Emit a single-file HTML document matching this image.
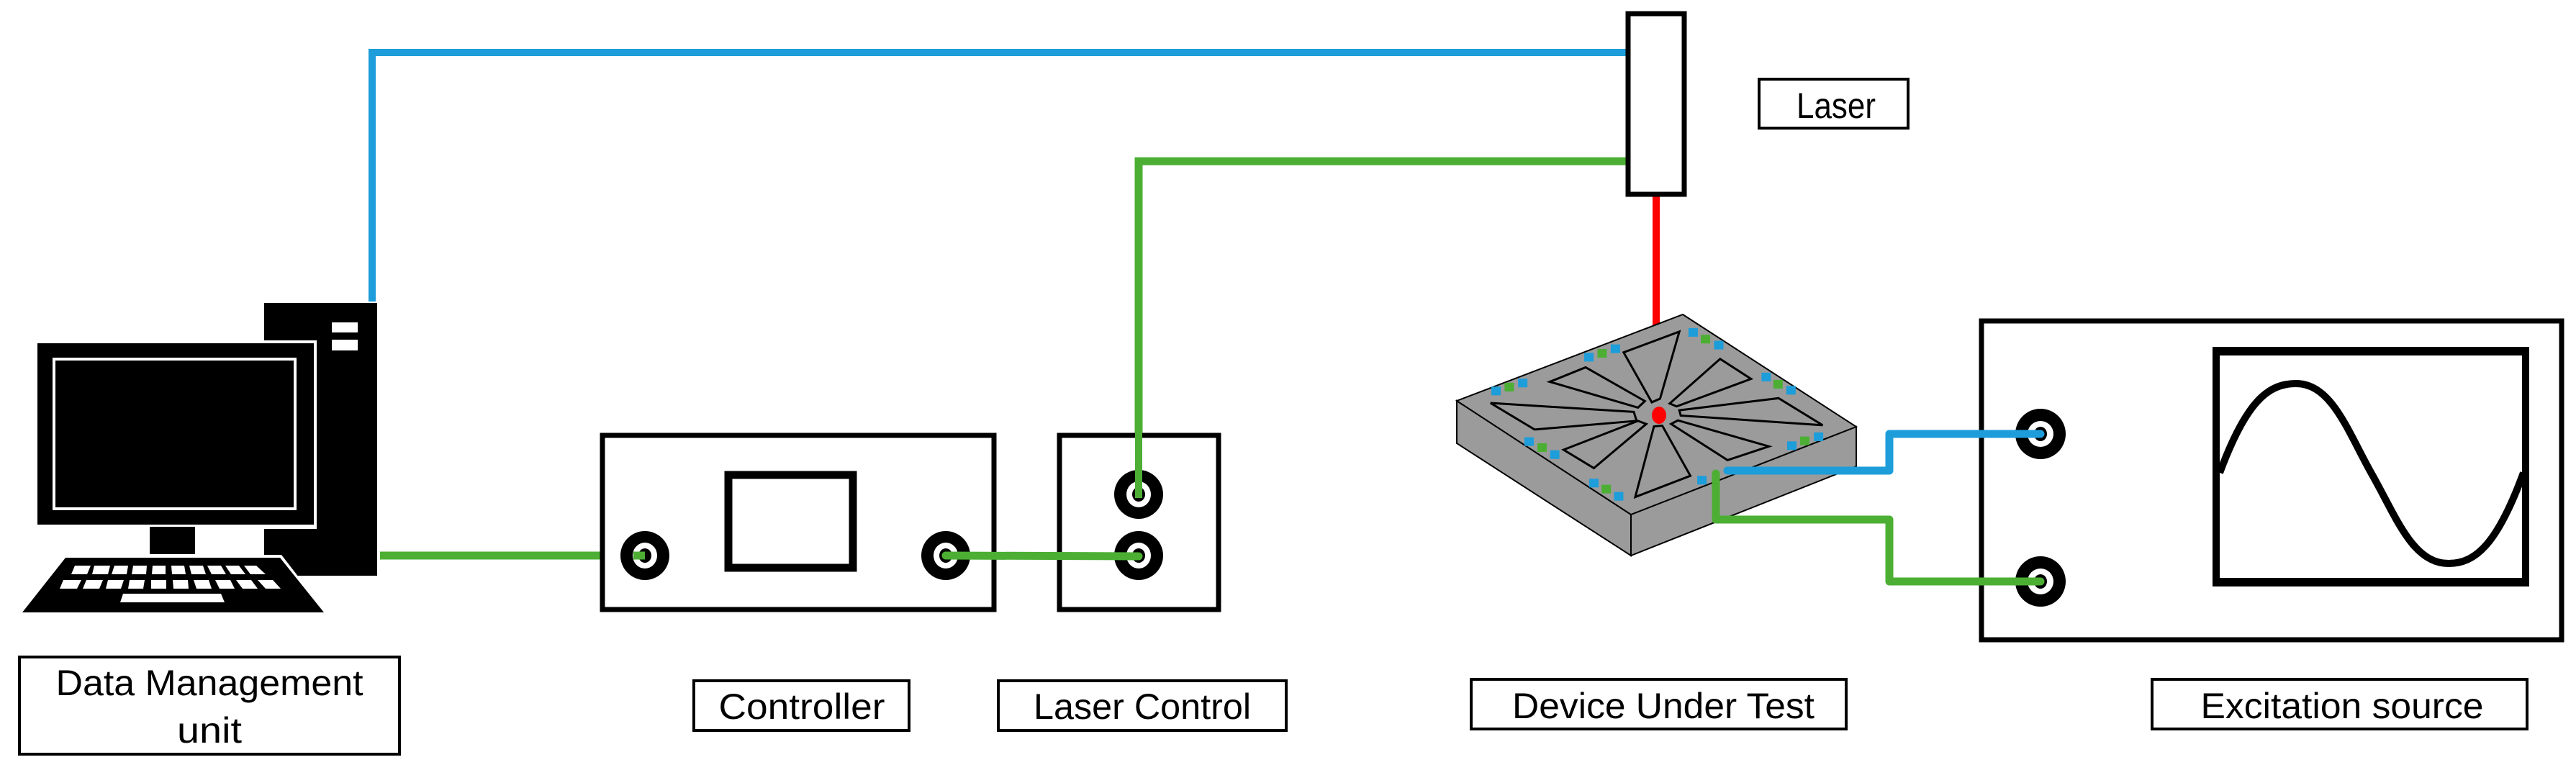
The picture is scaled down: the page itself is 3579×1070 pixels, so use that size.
<!DOCTYPE html>
<html><head><meta charset="utf-8"><style>html,body{margin:0;padding:0;background:#fff}svg{display:block}text{font-family:"Liberation Sans",sans-serif;font-size:50px;fill:#000}</style></head>
<body>
<svg width="3579" height="1070" viewBox="0 0 3579 1070" xmlns="http://www.w3.org/2000/svg">
<rect width="3579" height="1070" fill="#fff"/>

<!-- connector lines top -->
<polyline points="517,419 517,73 2262,73" fill="none" stroke="#1d9dd9" stroke-width="10"/>
<polyline points="1582,687 1582,224 2262,224" fill="none" stroke="#4caf34" stroke-width="11"/>
<line x1="2301" y1="273" x2="2301" y2="578" stroke="#ff0000" stroke-width="10"/>

<!-- Laser box -->
<rect x="2262" y="19" width="78" height="251" fill="#fff" stroke="#000" stroke-width="7"/>
<rect x="2444" y="110" width="207" height="68" fill="#fff" stroke="#000" stroke-width="4"/>
<text x="2551" y="164" text-anchor="middle" textLength="110" lengthAdjust="spacingAndGlyphs">Laser</text>

<!-- Computer -->
<rect x="367" y="421" width="157" height="379" fill="#000"/>
<rect x="461" y="448" width="36" height="14" fill="#fff"/>
<rect x="461" y="472" width="36" height="15" fill="#fff"/>
<rect x="48" y="473" width="392" height="262" fill="#fff"/>
<rect x="52" y="477" width="384" height="252" fill="#000"/>
<rect x="75" y="499" width="335" height="208" fill="none" stroke="#fff" stroke-width="4"/>
<rect x="208" y="732" width="63" height="38" fill="#000"/>
<polygon points="89,771 391,771 456,855 25,855" fill="#fff"/>
<polygon points="91,775 389,775 450,851 31,851" fill="#000"/>
<g fill="#fff">
<polygon points="104,786 126,786 121,798 99,798"/>
<polygon points="131,786 153,786 150,798 128,798"/>
<polygon points="159,786 178,786 176,798 155,798"/>
<polygon points="185,786 204,786 203,798 183,798"/>
<polygon points="212,786 230,786 230,798 211,798"/>
<polygon points="238,786 256,786 258,798 239,798"/>
<polygon points="263,786 282,786 286,798 266,798"/>
<polygon points="288,786 307,786 314,798 294,798"/>
<polygon points="313,786 332,786 341,798 321,798"/>
<polygon points="339,786 356,786 369,798 348,798"/>
<polygon points="88,806 113,806 107,818 83,818"/>
<polygon points="120,806 143,806 138,818 115,818"/>
<polygon points="150,806 172,806 168,818 147,818"/>
<polygon points="180,806 201,806 199,818 178,818"/>
<polygon points="210,806 231,806 231,818 210,818"/>
<polygon points="240,806 261,806 262,818 241,818"/>
<polygon points="269,806 290,806 294,818 273,818"/>
<polygon points="299,806 320,806 326,818 305,818"/>
<polygon points="328,806 349,806 358,818 337,818"/>
<polygon points="358,806 379,806 390,818 369,818"/>
<polygon points="171,825 307,825 312,837 167,837"/>
</g>

<!-- green from computer to controller -->
<line x1="528" y1="772" x2="896" y2="772" stroke="#4caf34" stroke-width="11"/>

<!-- Controller -->
<rect x="837" y="605" width="544" height="242" fill="#fff" stroke="#000" stroke-width="7"/>
<rect x="1012" y="660" width="173" height="129" fill="#fff" stroke="#000" stroke-width="11"/>
<!-- Laser control -->
<rect x="1472" y="605" width="221" height="242" fill="#fff" stroke="#000" stroke-width="7"/>

<g id="conn">
</g>
<!-- connectors -->
<g>
<ellipse cx="896" cy="772" rx="34" ry="34" fill="#000"/><ellipse cx="896" cy="772" rx="17" ry="18" fill="#fff"/><ellipse cx="896" cy="772" rx="9" ry="10" fill="#000"/>
<ellipse cx="1314" cy="772" rx="34" ry="34" fill="#000"/><ellipse cx="1314" cy="772" rx="17" ry="18" fill="#fff"/><ellipse cx="1314" cy="772" rx="9" ry="10" fill="#000"/>
<ellipse cx="1582" cy="687" rx="34" ry="34" fill="#000"/><ellipse cx="1582" cy="687" rx="17" ry="18" fill="#fff"/><ellipse cx="1582" cy="687" rx="9" ry="10" fill="#000"/>
<ellipse cx="1582" cy="772" rx="34" ry="34" fill="#000"/><ellipse cx="1582" cy="772" rx="17" ry="18" fill="#fff"/><ellipse cx="1582" cy="772" rx="9" ry="10" fill="#000"/>
</g>
<line x1="896" y1="772" x2="880" y2="772" stroke="#4caf34" stroke-width="11"/>
<line x1="1582" y1="600" x2="1582" y2="692" stroke="#4caf34" stroke-width="10"/>
<line x1="1314" y1="772" x2="1582" y2="773" stroke="#4caf34" stroke-width="11" stroke-linecap="round"/>

<!-- DUT -->
<polygon points="2024,557 2266,715 2266,772 2024,616" fill="#9b9b9b" stroke="#000" stroke-width="2"/>
<polygon points="2266,715 2579,593 2579,648 2266,772" fill="#9b9b9b" stroke="#000" stroke-width="2"/>
<polygon points="2338,437 2579,593 2266,715 2024,557" fill="#9b9b9b" stroke="#000" stroke-width="2"/>
<g transform="translate(2000,420) scale(0.383,0.335)" fill="none" stroke="#000" stroke-width="3">
<g vector-effect="non-scaling-stroke">
<polygon vector-effect="non-scaling-stroke" points="705,455 185,418 345,528 715,492"/>
<polygon vector-effect="non-scaling-stroke" points="720,437 400,330 530,270 745,410"/>
<polygon vector-effect="non-scaling-stroke" points="770,415 668,208 870,122 800,400"/>
<polygon vector-effect="non-scaling-stroke" points="835,420 1018,235 1130,318 860,432"/>
<polygon vector-effect="non-scaling-stroke" points="870,448 1230,398 1390,510 875,470"/>
<polygon vector-effect="non-scaling-stroke" points="865,490 1195,598 1045,655 840,505"/>
<polygon vector-effect="non-scaling-stroke" points="808,512 910,720 710,808 778,515"/>
<polygon vector-effect="non-scaling-stroke" points="750,505 560,688 450,612 720,492"/>
</g>
<g stroke="none">
<g fill="#1d9dd9">
<rect x="188" y="350" width="34" height="36"/><rect x="285" y="317" width="34" height="36"/>
<rect x="525" y="210" width="34" height="36"/><rect x="621" y="175" width="34" height="36"/>
<rect x="903" y="107" width="34" height="36"/><rect x="996" y="160" width="34" height="36"/>
<rect x="1168" y="292" width="34" height="36"/><rect x="1258" y="347" width="34" height="36"/>
<rect x="1261" y="577" width="34" height="36"/><rect x="1358" y="540" width="34" height="36"/>
<rect x="308" y="560" width="34" height="36"/><rect x="401" y="614" width="34" height="36"/>
<rect x="543" y="732" width="34" height="36"/><rect x="633" y="787" width="34" height="36"/>
<rect x="935" y="720" width="34" height="36"/>
</g>
<g fill="#4caf34">
<rect x="236" y="334" width="34" height="36"/><rect x="573" y="194" width="34" height="36"/>
<rect x="948" y="135" width="34" height="36"/><rect x="1211" y="322" width="34" height="36"/>
<rect x="1308" y="557" width="34" height="36"/><rect x="355" y="585" width="34" height="36"/>
<rect x="588" y="757" width="34" height="36"/>
</g>
</g>
</g>
<ellipse cx="2305" cy="577" rx="10" ry="12" fill="#ff0000"/>
<polyline points="2400,654 2625,654 2625,603 2835,603" fill="none" stroke="#1d9dd9" stroke-width="11" stroke-linejoin="round" stroke-linecap="round"/>
<polyline points="2384,658 2384,722 2625,722 2625,808 2835,808" fill="none" stroke="#4caf34" stroke-width="11" stroke-linejoin="round" stroke-linecap="round"/>

<!-- Excitation source -->
<rect x="2753" y="446" width="806" height="443" fill="none" stroke="#000" stroke-width="7"/>
<ellipse cx="2835" cy="603" rx="35" ry="35" fill="#000"/><ellipse cx="2835" cy="603" rx="18" ry="18" fill="#fff"/><ellipse cx="2835" cy="603" rx="9" ry="10" fill="#000"/>
<ellipse cx="2835" cy="808" rx="35" ry="35" fill="#000"/><ellipse cx="2835" cy="808" rx="18" ry="18" fill="#fff"/><ellipse cx="2835" cy="808" rx="9" ry="10" fill="#000"/>
<line x1="2750" y1="603" x2="2835" y2="603" stroke="#1d9dd9" stroke-width="11" stroke-linecap="round"/>
<line x1="2750" y1="808" x2="2835" y2="808" stroke="#4caf34" stroke-width="11" stroke-linecap="round"/>
<rect x="3079" y="488" width="430" height="322" fill="none" stroke="#000" stroke-width="10"/>
<rect x="3074" y="482" width="440" height="12" fill="#000"/>
<rect x="3074" y="803" width="440" height="12" fill="#000"/>
<path d="M3084,657 C3120,560 3150,533 3190,533 C3240,533 3262,600 3296,660 C3330,720 3352,783 3402,783 C3440,783 3470,755 3506,657" fill="none" stroke="#000" stroke-width="10"/>

<!-- Labels -->
<rect x="27" y="913" width="528" height="135" fill="none" stroke="#000" stroke-width="4"/>
<text x="291" y="966" text-anchor="middle" textLength="427" lengthAdjust="spacingAndGlyphs">Data Management</text>
<text x="291" y="1032" text-anchor="middle" textLength="90" lengthAdjust="spacingAndGlyphs">unit</text>
<rect x="964" y="946" width="299" height="69" fill="none" stroke="#000" stroke-width="4"/>
<text x="1114" y="999" text-anchor="middle" textLength="231" lengthAdjust="spacingAndGlyphs">Controller</text>
<rect x="1387" y="946" width="400" height="69" fill="none" stroke="#000" stroke-width="4"/>
<text x="1587" y="999" text-anchor="middle" textLength="302" lengthAdjust="spacingAndGlyphs">Laser Control</text>
<rect x="2044" y="944" width="521" height="69" fill="none" stroke="#000" stroke-width="4"/>
<text x="2311" y="998" text-anchor="middle" textLength="420" lengthAdjust="spacingAndGlyphs">Device Under Test</text>
<rect x="2990" y="944" width="521" height="69" fill="none" stroke="#000" stroke-width="4"/>
<text x="3254" y="998" text-anchor="middle" textLength="393" lengthAdjust="spacingAndGlyphs">Excitation source</text>
</svg>
</body></html>
